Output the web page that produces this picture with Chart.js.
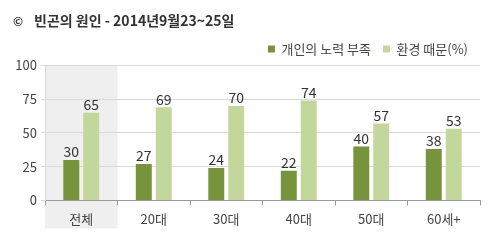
<!DOCTYPE html>
<html>
<head>
<meta charset="utf-8">
<script src="https://cdn.jsdelivr.net/npm/chart.js@4.4.0/dist/chart.umd.min.js"></script>
<style>
  body { margin:0; background:#fff; }
  #wrap { width:488px; height:245px; position:relative; }
</style>
</head>
<body>
<div id="wrap"><canvas id="myChart" width="488" height="245"></canvas></div>
<script>
const categories = ["전체", "20대", "30대", "40대", "50대", "60세+"];
const effortLack = [30, 27, 24, 22, 40, 38];
const environment = [65, 69, 70, 74, 57, 53];
const yTicks = [0, 25, 50, 75, 100];
const seriesNames = ["개인의 노력 부족", "환경 때문(%)"];
const titleText = "빈곤의 원인 - 2014년9월23~25일";

const fontFam = "'Noto Sans CJK KR', 'Noto Sans', sans-serif";

// gray band behind the first category, drawn before grid
const bandUnder = {
  id: "bandUnder",
  beforeDraw(chart) {
    const {ctx, chartArea, scales} = chart;
    const x = scales.x;
    const w = x.getPixelForValue(1) - x.getPixelForValue(0);
    const left = x.getPixelForValue(0) - w / 2;
    ctx.save();
    ctx.fillStyle = "#efefef";
    ctx.fillRect(left, chartArea.top, w, chartArea.bottom - chartArea.top + 28);
    ctx.restore();
  }
};

const labelPlugin = {
  id: "labels",
  afterDatasetsDraw(chart) {
    const ctx = chart.ctx;
    ctx.save();
    ctx.font = "14px " + fontFam;
    ctx.fillStyle = "#333";
    ctx.textAlign = "center";
    ctx.textBaseline = "bottom";
    chart.data.datasets.forEach((ds, i) => {
      chart.getDatasetMeta(i).data.forEach((bar, j) => {
        ctx.fillText(ds.data[j], bar.x, bar.y - 1);
      });
    });
    ctx.restore();
  }
};

const titlePlugin = {
  id: "mytitle",
  afterDraw(chart) {
    const ctx = chart.ctx;
    ctx.save();
    ctx.fillStyle = "#333";
    ctx.textBaseline = "middle";
    ctx.font = "bold 12px " + fontFam;
    ctx.fillText("©", 13, 21);
    ctx.font = "bold 14px " + fontFam;
    ctx.fillText(titleText, 34, 21);
    ctx.restore();
  }
};

new Chart(document.getElementById("myChart"), {
  type: "bar",
  data: {
    labels: categories,
    datasets: [
      { label: seriesNames[0], data: effortLack, backgroundColor: "#77933c" },
      { label: seriesNames[1], data: environment, backgroundColor: "#c3d69b" }
    ]
  },
  options: {
    responsive: false,
    animation: false,
    layout: { padding: { left: 4, right: 8, top: 8, bottom: 12 } },
    datasets: { bar: { barPercentage: 0.8, categoryPercentage: 0.55 } },
    plugins: {
      title: { display: true, text: " ", padding: { top: 4, bottom: 4 } },
      legend: {
        position: "top",
        align: "end",
        labels: {
          boxWidth: 7, boxHeight: 7, color: "#444",
          font: { family: fontFam, size: 13 }, padding: 12
        }
      },
      tooltip: { enabled: false }
    },
    scales: {
      x: {
        grid: { drawOnChartArea: false, drawTicks: true, tickLength: 5, color: "#999", offset: true },
        border: { color: "#999" },
        ticks: { color: "#444", font: { family: fontFam, size: 13 }, padding: 6 }
      },
      y: {
        min: 0, max: 100,
        afterBuildTicks(axis) { axis.ticks = yTicks.map(v => ({ value: v })); },
        afterFit(axis) { axis.width = 41; },
        grid: { color: "#d9d9d9", tickLength: 4 },
        border: { color: "#d9d9d9" },
        ticks: { color: "#444", font: { family: fontFam, size: 13 }, padding: 4 }
      }
    }
  },
  plugins: [bandUnder, labelPlugin, titlePlugin]
});
</script>
</body>
</html>
